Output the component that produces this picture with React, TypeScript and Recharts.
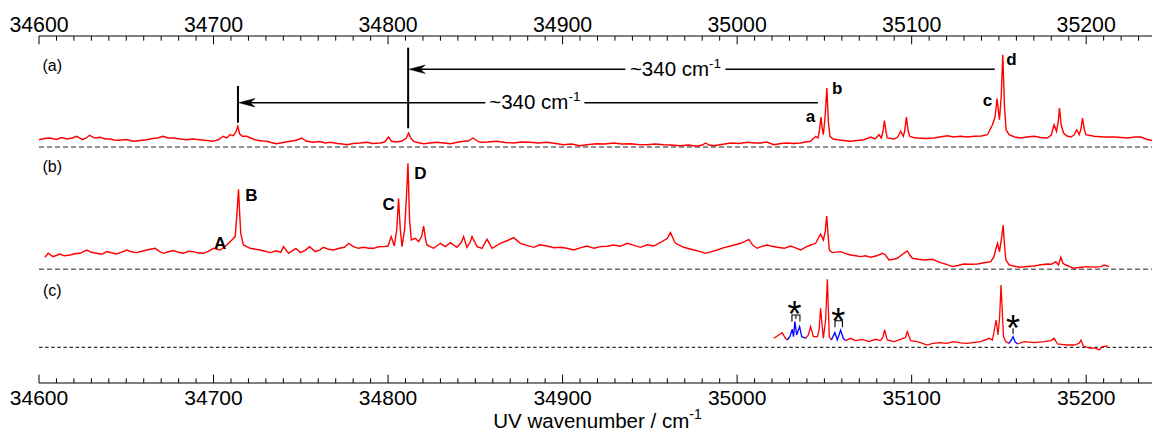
import React from 'react';
import { ComposedChart, Line, XAxis, YAxis, ReferenceLine, ReferenceDot } from 'recharts';

// ---------- data: wavenumbers (cm-1) and intensities (arb. units above each baseline) ----------
const waveA = [34600,34603,34606,34610,34613,34616,34619,34621.6,34625,34627,34629,34632,34635,34638,34640.7,34643,34646,34650,34654,34658,34661.7,34665,34668,34671,34674,34677,34681,34684.7,34688,34692,34696,34699.8,34703,34705.5,34707.5,34709.5,34711.4,34712.8,34713.9,34715,34716.5,34719,34722,34724.8,34728,34730.5,34733,34736,34740,34744,34747,34750.6,34753,34757,34761,34764,34767,34771,34774,34776.4,34780,34784,34788,34791,34795.5,34798,34800.3,34802,34805,34808,34810.5,34811.8,34813,34814.6,34817,34820.4,34824,34828,34832,34835.7,34839,34843.3,34846,34848.7,34851,34852.9,34857,34862.4,34867,34872,34876,34881.5,34886,34891,34896,34900.6,34905,34910,34915,34919.8,34924,34929.3,34934,34938.8,34943,34948.4,34953,34958,34962,34967.5,34972,34977,34980,34981.9,34984,34986.6,34991,34996.2,35001,35005.8,35010,35013.4,35017,35021,35025,35028.7,35032,35036.4,35039,35042,35045,35046.3,35047,35048,35048.8,35049.4,35050.4,35051.4,35052.3,35053.2,35055,35057.4,35061,35065,35069,35072.7,35076.5,35079,35081.3,35082.6,35083.5,35084.4,35085.3,35086,35089.9,35092,35093.7,35095.2,35096,35097,35098,35098.9,35101,35103.3,35108,35112.8,35116,35120.5,35124,35128,35132,35135.7,35140,35143.4,35146.3,35147.8,35148.9,35150.3,35151.3,35152.2,35153.2,35154.1,35155.8,35159,35162.5,35166,35170.2,35174,35177.8,35180,35181.6,35183,35184,35184.7,35185.7,35187,35189,35191.2,35193,35194.6,35196,35197,35197.9,35198.9,35199.8,35204.5,35210,35216,35220,35223.7,35228,35231.3,35235,35240];
const intA = [7.3,8.5,9,7.5,9.5,8,9,10.7,7.3,9,11.7,9,9.7,8,8,7,6.7,7.5,5.7,6.5,7.3,8.5,9,10.7,9,9,8,7.3,8,7.3,6.5,5.7,7.5,10.7,9,12.3,11.3,15,20.7,13,10.7,10.7,8.5,6.7,6,5.7,4.5,3.3,4.5,5.7,6.5,9,6,4.7,5.5,4,4.7,3.5,3,2.3,3.5,4,4.7,3.5,4,5,10,5.7,5,6,9,14,9,5.7,4.5,3.3,4,4.7,4,3.3,4.5,5.7,6,9,6,4.7,5,5.7,4.5,4,5,4.7,4,4.7,3.5,2.3,3,1.3,2.5,3.3,3,4,3,3.3,2.5,2.3,3,2.3,2,1.3,2,0.7,2,4,2,1.3,2.5,4,3.5,4.7,4,4,5,2.3,3.5,4,3.5,4,5,5.7,10.7,9,14,30,18,12.3,30,59,25,10.7,8,7.3,6.5,5.7,6.5,7.3,10,8,12.3,9,15,26.3,15,9,8,10,15.7,10.7,16,30,16,10.7,9.5,9,8.5,9,10,11.3,10,10.7,10,10.7,11,12.3,22.3,30,48.3,27.3,50,92.3,40,17.3,12.3,10,9,10,10.7,9.5,9,12,22.3,15.7,25,39,22,14,11,10,12,17.3,12.3,18,29,18,12.3,10.7,10,10,9.5,9,10,10,7.5,5.7];

const waveB = [34603.4,34605.3,34608,34612,34614.5,34617.8,34620.5,34623.5,34627.3,34630,34633,34636,34638.8,34641.5,34644.5,34647,34650.3,34653,34656,34659,34661.8,34666.5,34669,34671.3,34674,34677,34680,34682.7,34685.5,34688.5,34691,34694.2,34697,34700,34703.8,34707.6,34710.5,34712.4,34713.4,34714.3,34715,34715.6,34717.1,34721,34724,34726.7,34729.5,34732.5,34736,34738.5,34740.1,34743,34745.5,34747.2,34749.7,34752.5,34755,34758.3,34761,34763,34766,34768.8,34772,34775,34777.4,34780.2,34783,34786,34789,34791.7,34794.5,34797.4,34800,34801.8,34803.6,34805,34806,34807,34808,34809.5,34810.6,34811.4,34812.3,34813.3,34815.6,34817.5,34819.3,34820.4,34821.5,34822.3,34826.1,34830,34832.8,34835.7,34839.5,34842,34843.3,34845.2,34847,34848.1,34851,34853.8,34856.7,34859.6,34864.3,34869.1,34872,34875.8,34879.5,34883.5,34887,34891.1,34895,34898.7,34902.5,34906.4,34910,34914,34918,34921.7,34925.5,34929.3,34933,34937,34941,34944.6,34948.5,34952.2,34957,34960,34961.8,34963.5,34964.7,34969.4,34975.2,34978.5,34981.9,34985,34988.6,34992,34996.2,35002,35004.5,35006.7,35009,35011.5,35014,35017.3,35020,35023,35027,35030.6,35033.5,35036.4,35039,35042.1,35045,35047.8,35049.4,35050.5,35051.3,35052.1,35052.8,35054.5,35059.3,35062,35065,35068,35070.8,35073.5,35076.5,35080,35083.2,35085,35087,35089.5,35091.8,35095.5,35097.5,35099,35100.4,35104,35107.1,35111.9,35116.6,35120,35123.4,35127,35130,35134,35137.7,35141.5,35145.3,35147.2,35148.2,35149.2,35150.3,35151.4,35152.4,35153.3,35154,35155.9,35159,35162.5,35166,35170.2,35174,35177.8,35180,35182.6,35184.1,35185.5,35186.7,35188.3,35193.1,35197,35200.8,35204.5,35208.4,35210.3,35213.2];
const intB = [12,16,12.7,15.3,13.5,14.3,15.5,16,19.3,17,16,15,17.7,16.5,15.3,17,19.3,17.5,16.7,18,19.3,21,18,16,17.5,18.7,17,16,18,17.7,16.5,16,18,21,19.3,24.3,29.3,32.7,55,80,55,36,24.3,21,20,19.3,18,16.7,18.5,17,22.7,16,19,21,16.7,19,22.7,17.7,19.5,22,20,19.3,21,22,26,22.7,21,22,21,21,22.5,22.7,23.3,32.7,23.3,40,71,40,22.7,40,75,106,50,29.3,31,27.7,33,43.3,30,24.3,21,26,22.7,26.7,22,27,32.7,22,27,32.7,22.7,21,30,21,26,29.3,31.7,26,24,22,24.5,23.3,21.5,22,21,19.3,21.5,23.3,21,22.7,23,24.3,23,26,24,22,24.5,23.3,27.7,31,36.7,30,26,22,19.3,18,16,17.5,19.3,21.5,23.3,26,28,30,24,21,23,24.3,23,22,21,23.3,21.5,19.3,22,24.3,26,35.3,29.3,38,53.3,35,19.3,16.7,17.7,16,14.3,13.5,12.7,13.5,12,13.5,16,14.3,9.3,10,11,16,18.3,14,11,10,9.3,10,6.7,5,2.7,4,5.3,5,5.3,6.5,7.7,12.7,20,26,17.7,30,44.3,22,9.3,4.3,3,2,2.8,3.3,4.5,5.3,5,7.7,4.3,12,6,4.3,1,2,2.7,2.2,2.7,4.3,2.7];

const waveC = [35021,35023.9,35025.8,35027.7,35028.7,35030.2,35031.6,35032.3,35033.1,35034.1,35035.8,35037,35039.3,35040.8,35042.1,35043.7,35046,35047,35047.8,35049.4,35050.7,35051.7,35052.8,35054,35056,35057.4,35059.3,35060.8,35062.2,35065,35067.9,35071.7,35075.5,35079.4,35082.2,35083.5,35084.5,35086,35089.9,35093.7,35096.5,35097.5,35099.4,35103.3,35109,35112,35116.6,35120,35124.3,35128,35131.9,35136,35139.6,35144.4,35146.3,35148.4,35149.5,35150.4,35151.2,35152.6,35153.9,35155.8,35157.2,35158.1,35159.2,35160.6,35164.4,35170.2,35175.9,35179.7,35181.6,35183.6,35186,35189.3,35193.1,35196,35197,35198.4,35202.6,35205,35207.4,35209.3,35212.2];
const intC = [9,12.3,14.7,9,7.3,10.7,18,10.7,25.7,12.3,20.7,10.7,9,12.3,20.7,10.7,10.7,18,39,9,27.3,68,10.7,7.3,14.7,7.3,17.3,9,6.7,9,6.7,8,5.7,8,6.7,10,17.3,7.3,5.7,8,10,15.7,6.7,5.7,2.3,4,4.7,4,5.7,4.5,4,5,5.7,9,7.3,27.3,12.3,30,62.3,10.7,5.7,4,7.3,10.7,5.7,3.3,5.7,4.7,5.7,6.7,9,3.3,3,2.3,2.3,4,7.3,1.3,-1,-0.5,-2.7,0.7,1.3];
const blueRangesC: [number, number][] = [[35028.7, 35039.3], [35054, 35062.2], [35155.8, 35160.6]];

const majorTicks = [34600, 34700, 34800, 34900, 35000, 35100, 35200];
const allTicks: number[] = [];
for (let t = 34600; t <= 35240; t += 10) allTicks.push(t);

const peakLabels = [
  { x: 35042.1, y: 266.3, text: 'a' },
  { x: 35057.4, y: 295, text: 'b' },
  { x: 35143.4, y: 283, text: 'c' },
  { x: 35157.2, y: 324, text: 'd' },
  { x: 34703.8, y: 140, text: 'A' },
  { x: 34721.7, y: 187.5, text: 'B' },
  { x: 34800.3, y: 178.3, text: 'C' },
  { x: 34818.5, y: 210, text: 'D' },
];
const panelLabels = [
  { x: 34607.6, y: 318, text: '(a)' },
  { x: 34607.6, y: 216.3, text: '(b)' },
  { x: 34607.6, y: 92.3, text: '(c)' },
];
const stars = [
  { x: 35032.9, y: 76.3 },
  { x: 35057.9, y: 69.7 },
  { x: 35158.1, y: 63 },
];

// ---------- layout ----------
const BASE_A = 236;
const BASE_B = 113.7;
const BASE_C = 35.7;
const FONT = '"Liberation Sans", Arial, sans-serif';

const tableA = waveA.map((x, i) => ({ x, y: BASE_A + intA[i] }));
const tableB = waveB.map((x, i) => ({ x, y: BASE_B + intB[i] }));
const tableC = waveC.map((x, i) => {
  const v = BASE_C + intC[i];
  const inBlue = blueRangesC.some(([s, e]) => x >= s && x <= e);
  const inside = blueRangesC.some(([s, e]) => x > s && x < e);
  return { x, red: inside ? null : v, blue: inBlue ? v : null };
});

const TopTick = (p: any) => {
  const { x, y, payload } = p;
  const v = payload.value;
  const major = majorTicks.includes(v);
  return (
    <g>
      <line x1={x} x2={x} y1={y} y2={y + (major ? 8.3 : 4.7)} stroke="#000" strokeWidth={1} />
      {major && (
        <text x={x} y={y - 4.5} textAnchor="middle" fontSize={21.3} fontFamily={FONT} fill="#000">
          {v}
        </text>
      )}
    </g>
  );
};

const BottomTick = (p: any) => {
  const { x, y, payload } = p;
  const v = payload.value;
  const major = majorTicks.includes(v);
  return (
    <g>
      <line x1={x} x2={x} y1={y} y2={y - (major ? 8.3 : 4.7)} stroke="#000" strokeWidth={1} />
      {major && (
        <text x={x} y={y + 22} textAnchor="middle" fontSize={21} fontFamily={FONT} fill="#000">
          {v}
        </text>
      )}
    </g>
  );
};

const arrowShape = (head: boolean, width: number) => (p: any) => {
  const { x1, y1, x2, y2 } = p;
  const dx = x2 - x1, dy = y2 - y1;
  const len = Math.hypot(dx, dy) || 1;
  const ux = dx / len, uy = dy / len;
  const px = -uy, py = ux;
  const L = 16, W = 4.2, N = 11;
  const d = `M${x1},${y1} L${x1 + ux * L + px * W},${y1 + uy * L + py * W} L${x1 + ux * N},${y1 + uy * N} L${x1 + ux * L - px * W},${y1 + uy * L - py * W} Z`;
  return (
    <g>
      <line x1={head ? x1 + ux * 6 : x1} y1={head ? y1 + uy * 6 : y1} x2={x2} y2={y2} stroke="#000" strokeWidth={width} />
      {head && <path d={d} fill="#000" stroke="#000" strokeWidth={0.6} />}
    </g>
  );
};

const textShape = (text: string, size: number, bold: boolean) => (p: any) => (
  <text x={p.cx} y={p.cy} textAnchor="middle" dominantBaseline="central" fontSize={size}
    fontWeight={bold ? 'bold' : 'normal'} fontFamily={FONT} fill="#000">{text}</text>
);

const cmShape = (p: any) => (
  <text x={p.cx} y={p.cy + 6.5} textAnchor="middle" fontSize={20.5} fontFamily={FONT} fill="#000">
    ~340 cm<tspan dy={-8} fontSize={13.5}>-1</tspan>
  </text>
);

const titleShape = (p: any) => (
  <text x={p.cx} y={p.cy} textAnchor="middle" fontSize={20.5} fontFamily={FONT} fill="#000">
    UV wavenumber / cm<tspan dy={-8.5} fontSize={14}>-1</tspan>
  </text>
);

const starShape = (p: any) => (
  <text x={p.cx} y={p.cy + 20.5} textAnchor="middle" fontSize={36} fontFamily={FONT} fill="#000">*</text>
);

const bracket3 = (p: any) => (
  <path d={`M${p.cx - 4},${p.cy + 6.5} V${p.cy} H${p.cx + 4} V${p.cy + 6.5} M${p.cx},${p.cy} V${p.cy + 4}`}
    fill="none" stroke="#000" strokeWidth={1.1} />
);
const bracket2 = (p: any) => (
  <path d={`M${p.cx - 3.7},${p.cy + 6.5} V${p.cy} H${p.cx + 3.7} V${p.cy + 6.5}`}
    fill="none" stroke="#000" strokeWidth={1.1} />
);

export default function App() {
  return (
    <div style={{ position: 'absolute', left: 8, top: 8, width: 1144, height: 424, overflow: 'hidden' }}>
      <ComposedChart width={1148} height={424} margin={{ top: 0, right: 0, bottom: 0, left: 31 }}>
        <XAxis xAxisId="top" orientation="top" type="number" dataKey="x" domain={[34600, 35240]}
          allowDataOverflow ticks={allTicks} interval={0} tick={(p: any) => <TopTick {...p} />}
          tickLine={false} tickSize={0} tickMargin={0} height={28}
          axisLine={{ stroke: '#000', strokeWidth: 1 }} />
        <XAxis type="number" dataKey="x" domain={[34600, 35240]} allowDataOverflow ticks={allTicks}
          interval={0} tick={(p: any) => <BottomTick {...p} />} tickLine={false} tickSize={0}
          tickMargin={0} height={49} axisLine={{ stroke: '#000', strokeWidth: 1 }} />
        <YAxis hide type="number" domain={[0, 347]} allowDataOverflow />

        <ReferenceLine y={BASE_A} stroke="#6b6b6b" strokeWidth={1.6} strokeDasharray="5 3" />
        <ReferenceLine y={BASE_B} stroke="#6b6b6b" strokeWidth={1.6} strokeDasharray="5 3" />
        <ReferenceLine y={BASE_C} stroke="#000" strokeWidth={1} strokeDasharray="3.5 2.6" />

        <Line data={tableA} dataKey="y" stroke="#ff0000" strokeWidth={1.4} dot={false} activeDot={false} isAnimationActive={false} type="linear" />
        <Line data={tableB} dataKey="y" stroke="#ff0000" strokeWidth={1.4} dot={false} activeDot={false} isAnimationActive={false} type="linear" />
        <Line data={tableC} dataKey="red" stroke="#ff0000" strokeWidth={1.3} dot={false} activeDot={false} isAnimationActive={false} type="linear" connectNulls={false} />
        <Line data={tableC} dataKey="blue" stroke="#0000ff" strokeWidth={1.3} dot={false} activeDot={false} isAnimationActive={false} type="linear" connectNulls={false} />

        {/* ~340 cm-1 arrows */}
        <ReferenceLine segment={[{ x: 34714, y: 260.3 }, { x: 34714, y: 297 }]} stroke="#000" strokeWidth={2} />
        <ReferenceLine segment={[{ x: 34811.5, y: 254.7 }, { x: 34811.5, y: 335.3 }]} stroke="#000" strokeWidth={2} />
        <ReferenceLine segment={[{ x: 34714.6, y: 280.3 }, { x: 34855.7, y: 280.3 }]} shape={arrowShape(true, 1.4)} />
        <ReferenceLine segment={[{ x: 34912.5, y: 280.3 }, { x: 35046.3, y: 280.3 }]} shape={arrowShape(false, 1.4)} />
        <ReferenceLine segment={[{ x: 34812.1, y: 313.7 }, { x: 34936, y: 313.7 }]} shape={arrowShape(true, 1.4)} />
        <ReferenceLine segment={[{ x: 34993.3, y: 313.7 }, { x: 35147.6, y: 313.7 }]} shape={arrowShape(false, 1.4)} />
        <ReferenceDot x={34884.1} y={280.3} r={0} shape={cmShape} />
        <ReferenceDot x={34964.7} y={313.7} r={0} shape={cmShape} />

        {peakLabels.map((l) => (
          <ReferenceDot key={l.text} x={l.x} y={l.y} r={0} shape={textShape(l.text, 17, true)} />
        ))}
        {panelLabels.map((l) => (
          <ReferenceDot key={l.text} x={l.x} y={l.y} r={0} shape={textShape(l.text, 16, false)} />
        ))}
        {stars.map((s, i) => (
          <ReferenceDot key={'s' + i} x={s.x} y={s.y} r={0} shape={starShape} />
        ))}
        <ReferenceDot x={35033.7} y={68} r={0} shape={bracket3} />
        <ReferenceDot x={35058.2} y={62.3} r={0} shape={bracket2} />
        <ReferenceLine segment={[{ x: 35158.1, y: 49 }, { x: 35158.1, y: 54.7 }]} stroke="#000" strokeWidth={1.1} />

        <ReferenceDot x={34920} y={-44.7} r={0} ifOverflow="visible" shape={titleShape} />
      </ComposedChart>
    </div>
  );
}
